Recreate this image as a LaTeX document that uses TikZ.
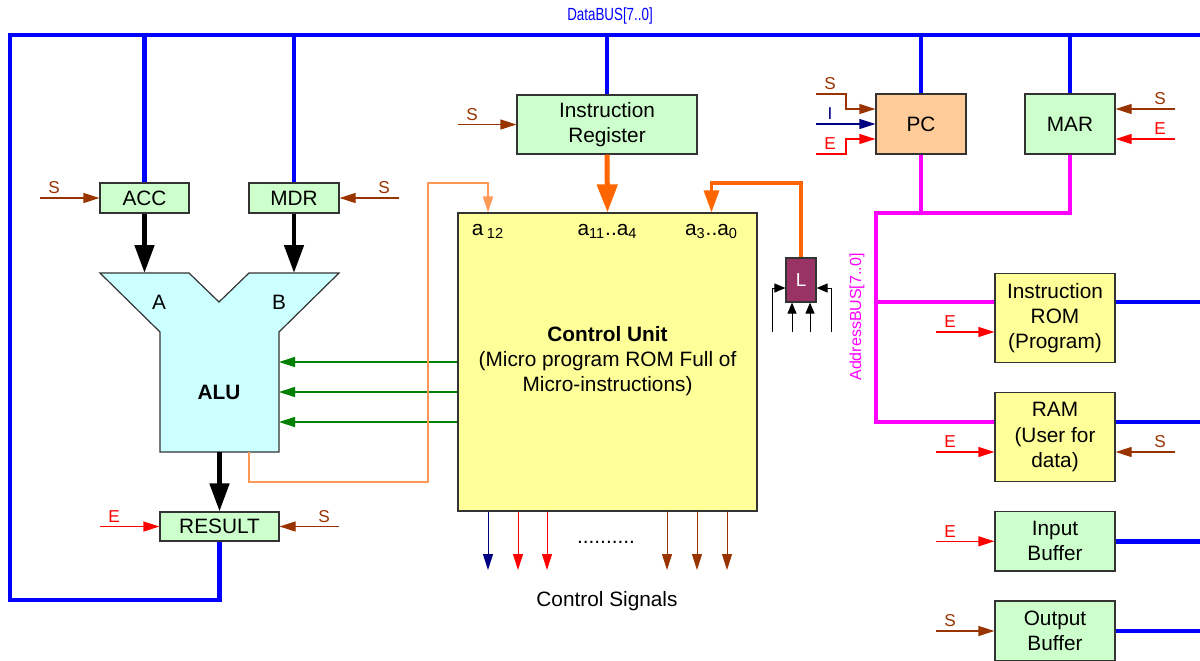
\documentclass[tikz,border=0pt]{standalone}
\usepackage{fontspec}
\setmainfont{Liberation Sans}
\usetikzlibrary{arrows.meta,positioning,calc}
\definecolor{busBlue}{HTML}{0000FF}
\definecolor{addrPink}{HTML}{FF00FF}
\definecolor{sigBrown}{HTML}{993300}
\definecolor{sigRed}{HTML}{FF0000}
\definecolor{sigNavy}{HTML}{000080}
\definecolor{ctlGreen}{HTML}{008000}
\definecolor{irOrange}{HTML}{FF6600}
\definecolor{flagOrange}{HTML}{FF9955}
\definecolor{regGreen}{HTML}{CCFFCC}
\definecolor{memYellow}{HTML}{FFFF99}
\definecolor{pcPeach}{HTML}{FFCC99}
\definecolor{aluCyan}{HTML}{CCFFFF}
\definecolor{latchPlum}{HTML}{993366}
\definecolor{edgeGray}{HTML}{333333}

\tikzset{
  blk/.style={draw=edgeGray,line width=0.6pt,inner sep=0pt,align=center},
  reg/.style={blk,fill=regGreen},
  mem/.style={blk,fill=memYellow,minimum width=60pt},
  databus/.style={busBlue,line width=2.2pt},
  addrbus/.style={addrPink,line width=2.2pt},
  sig/.style={line width=0.6pt,-{Triangle[length=8pt,width=5pt]}},
  sline/.style={sig,sigBrown},
  eline/.style={sig,sigRed},
  iline/.style={sig,sigNavy},
  ctlline/.style={sig,ctlGreen},
  tinyarr/.style={black,line width=0.5pt,-{Triangle[length=5.5pt,width=4.5pt]}},
  feed/.style={line width=2.4pt,-{Triangle[length=14pt,width=9.5pt]}},
  lbl/.style={font=\fontsize{8.6}{9.6}\selectfont,inner sep=0pt},
  lblL/.style={lbl,xshift=7pt,yshift=5pt},
  lblR/.style={lbl,xshift=-7.5pt,yshift=5pt},
}

\begin{document}
\begin{tikzpicture}[x=0.5pt,y=-0.5pt,font=\fontsize{10.4}{12.6}\selectfont]
\useasboundingbox (0,0) rectangle (1200,660);

\node[reg,minimum width=44.5pt,minimum height=15pt] (acc) at (144.5,198) {ACC};
\node[reg,minimum width=45pt,minimum height=15pt] (mdr) at (294,198) {MDR};
\node[reg,minimum width=59.5pt,minimum height=14.5pt] (result) at (219.5,526.5) {RESULT};
\node[reg,minimum width=90pt,minimum height=29.5pt] (ir) at (607,124.5) {Instruction\\Register};
\node[blk,fill=memYellow,minimum width=149.5pt,minimum height=149pt] (cu) at (607.5,362) {};
\node[blk,fill=pcPeach,minimum width=45pt,minimum height=30pt] (pc) at (921,124) {PC};
\node[reg,minimum width=45pt,minimum height=30pt] (mar) at (1070,124) {MAR};
\node[mem,minimum height=44.5pt] (irom) at (1055,318) {Instruction\\ROM\\(Program)};
\node[mem,minimum height=44.3pt] (ram) at (1055,437) {RAM\\(User for\\data)};
\node[reg,minimum width=60pt,minimum height=29.7pt] (inbuf) at (1055,541.3) {Input\\Buffer};
\node[reg,minimum width=60pt,minimum height=30pt] (outbuf) at (1055,631) {Output\\Buffer};
\node[blk,fill=latchPlum,text=white,minimum width=15pt,minimum height=22pt,font=\fontsize{9.4}{10}\selectfont] (lreg) at (801,280) {L};

\node[align=center] (cutext) at (607.5,361) {\textbf{Control Unit}\\(Micro program ROM Full of\\Micro-instructions)};
\node[anchor=base] (a12) at (488,235) {a\,\textsubscript{12}};
\node[anchor=base] (a114) at (607.5,235) {a\textsubscript{11}..a\textsubscript{4}};
\node[anchor=base] (a30) at (711.5,235) {a\textsubscript{3}..a\textsubscript{0}};

\coordinate (aluA) at (144.5,273);
\coordinate (aluB) at (294,273);
\coordinate (aluR) at (279,392);
\coordinate (aluOut) at (219.5,452);
\coordinate (aluFlag) at (249,452);
\draw[fill=aluCyan,draw=edgeGray,line width=0.6pt] (100,273) -- (189,273) -- (219,302) -- (249,273) -- (339,273) -- (279,332) -- (279,452) -- (160,452) -- (160,332) -- cycle;
\node (inA) at (159,302) {A};
\node (inB) at (279,302) {B};
\node (alu) at (219,392) {\textbf{ALU}};

\draw[feed] (acc.south) -- (aluA);
\draw[feed] (mdr.south) -- (aluB);
\draw[feed] (aluOut) -- (result.north);
\foreach \y in {362,392,422}
  \draw[ctlline] (cu.west |- 0,\y) -- (aluR |- 0,\y);
\draw[flagOrange,line width=0.7pt,-{Triangle[length=8pt,width=5pt]}] (aluFlag) -- (249,482) -- (428,482) -- (428,183) -| (a12 |- cu.north);
\draw[irOrange,line width=2.5pt,-{Triangle[length=14pt,width=10pt]}] (ir.south) -- (a114 |- cu.north);
\draw[irOrange,line width=1.6pt,-{Triangle[length=11pt,width=7.5pt]}] (lreg.north) |- (a30 |- 0,183) -- (a30 |- cu.north);

\draw[tinyarr] (772,332) coordinate (lin1) |- ([yshift=-4pt]lreg.west);
\draw[tinyarr] (831,332) coordinate (lin4) |- ([yshift=-4pt]lreg.east);
\draw[tinyarr] (792,332) coordinate (lin2) -- ([xshift=-4.5pt]lreg.south);
\draw[tinyarr] (810,332) coordinate (lin3) -- ([xshift=4.5pt]lreg.south);

\foreach \x/\c [count=\i] in {488/sigNavy,518/sigRed,547/sigRed,667/sigBrown,697/sigBrown,727/sigBrown}
  \draw[sig,line width=0.5pt,\c] (cu.south -| \x,0) -- (\x,570) coordinate (cs\i);
\node (dots) at (606,542) {..........};
\node (ctlsig) at (607,601) {Control Signals};

\coordinate (busR) at (1200,35);
\draw[databus] (result.south) |- (10,600) -- (10,35) -- (busR);
\foreach \n in {acc,mdr,ir,pc,mar}
  \draw[databus] (\n.north) -- (\n.north |- busR);
\node[text=busBlue] (dbLabel) at (610,16) {\fontsize{8.8}{10}\selectfont\scalebox{0.76}[1]{DataBUS[7..0]}};
\draw[databus] (irom.east |- 0,302) -- (1200,302);
\draw[databus] (ram.east |- 0,422) -- (1200,422);
\draw[databus] (inbuf.east) -- (inbuf.east -| busR);
\draw[databus] (outbuf.east) -- (outbuf.east -| busR);

\draw[addrbus] (mar.south) |- (876,213) |- (ram.west |- 0,422);
\draw[addrbus] (pc.south) -- (pc.south |- 0,213);
\draw[addrbus] (876,302) -- (irom.west |- 0,302);
\node[rotate=90,text=addrPink,font=\fontsize{8}{9}\selectfont] (abLabel) at (857,317) {AddressBUS[7..0]};

\draw[sline] (40,198) coordinate (accS) node[lblL,text=sigBrown] (accSl) {S} -- (acc.west);
\draw[sline] (399,198) coordinate (mdrS) node[lblR,text=sigBrown] (mdrSl) {S} -- (mdr.east);
\draw[eline] (100,526.5) coordinate (resE) node[lblL,text=sigRed] (resEl) {E} -- (result.west);
\draw[sline] (339,526.5) coordinate (resS) node[lblR,text=sigBrown] (resSl) {S} -- (result.east);
\draw[sline] (458,124.5) coordinate (irS) node[lblL,text=sigBrown] (irSl) {S} -- (ir.west);

\draw[sline] (816,94) coordinate (pcS) node[lblL,text=sigBrown] (pcSl) {S} -| (846,109) -- (pc.west |- 0,109);
\draw[iline] (816,124) coordinate (pcI) node[lblL,text=sigNavy] (pcIl) {I} -- (pc.west);
\draw[eline] (816,154) coordinate (pcE) node[lblL,text=sigRed] (pcEl) {E} -| (846,139) -- (pc.west |- 0,139);
\draw[sline] (1175,109) coordinate (marS) node[lblR,text=sigBrown] (marSl) {S} -- (mar.east |- 0,109);
\draw[eline] (1175,139) coordinate (marE) node[lblR,text=sigRed] (marEl) {E} -- (mar.east |- 0,139);

\draw[eline] (936,332) coordinate (iromE) node[lblL,text=sigRed] (iromEl) {E} -- (irom.west |- 0,332);
\draw[eline] (936,452) coordinate (ramE) node[lblL,text=sigRed] (ramEl) {E} -- (ram.west |- 0,452);
\draw[sline] (1175,452) coordinate (ramS) node[lblR,text=sigBrown] (ramSl) {S} -- (ram.east |- 0,452);
\draw[eline] (936,541.3) coordinate (inE) node[lblL,text=sigRed] (inEl) {E} -- (inbuf.west);
\draw[sline] (936,631) coordinate (outS) node[lblL,text=sigBrown] (outSl) {S} -- (outbuf.west);
\end{tikzpicture}
\end{document}
